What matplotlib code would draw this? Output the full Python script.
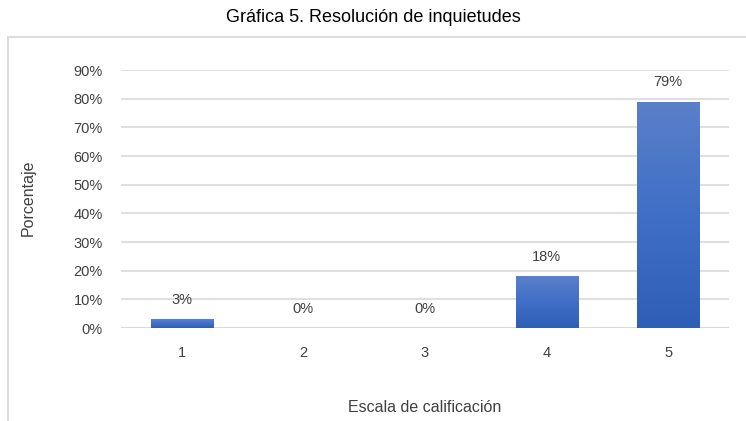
import numpy as np
import matplotlib.pyplot as plt
from matplotlib.patches import Rectangle
from matplotlib.colors import LinearSegmentedColormap

plt.rcParams['font.family'] = ['Liberation Sans Narrow', 'Liberation Sans', 'DejaVu Sans']

categories = ['1', '2', '3', '4', '5']
values = [3, 0, 0, 18, 79]
yticks = [0, 10, 20, 30, 40, 50, 60, 70, 80, 90]

title = 'Gráfica 5. Resolución de inquietudes'
xlabel = 'Escala de calificación'
ylabel = 'Porcentaje'

fig = plt.figure(figsize=(7.46, 4.21), dpi=100)
ax = fig.add_axes([121 / 746, 1 - 328 / 421, (729 - 121) / 746, (328 - 70) / 421])

# outer chart frame (cropped at right/bottom as in the reference)
fig.patches.append(Rectangle((8 / 746, -0.1), 1.1, 1 - 37 / 421 + 0.1,
                             transform=fig.transFigure, fill=False,
                             edgecolor='#d9d9d9', linewidth=1.3, zorder=0))

x = np.arange(len(categories))
bars = ax.bar(x, values, width=0.51, color='none', zorder=3)

grad = LinearSegmentedColormap.from_list('g', ['#2f5eb7', '#3f6fc6', '#5b80c9'])
img = np.linspace(0, 1, 256).reshape(-1, 1)
for b in bars:
    h = b.get_height()
    if h <= 0:
        continue
    x0 = b.get_x()
    w = b.get_width()
    im = ax.imshow(img, cmap=grad, aspect='auto', origin='lower',
                   extent=[x0, x0 + w, 0, h], zorder=3)
    im.set_clip_path(b)
    # light shadow
    ax.add_patch(Rectangle((x0 + 0.01, -0.4), w, h, facecolor='#bfbfbf',
                           alpha=0.35, edgecolor='none', zorder=2))

for xi, v in zip(x, values):
    ax.text(xi, v + 6.8, f'{v}%', ha='center', va='center',
            fontsize=10.5, color='#404040')

ax.set_xlim(-0.5, len(categories) - 0.5)
ax.set_ylim(0, 90)
ax.set_yticks(yticks)
ax.set_yticklabels([f'{t}%' for t in yticks])
ax.set_xticks(x)
ax.set_xticklabels(categories)
ax.tick_params(axis='both', length=0, labelsize=10.5, labelcolor='#404040')
ax.tick_params(axis='x', pad=13)
ax.tick_params(axis='y', pad=13)
ax.grid(axis='y', color='#d9d9d9', linewidth=1.2, zorder=0)
ax.set_axisbelow(True)
for s in ax.spines.values():
    s.set_visible(False)
ax.axhline(0, color='#d9d9d9', linewidth=1.2, zorder=1)

fig.text(0.5, 1 - 18 / 421, title, ha='center', va='center', fontsize=13, color='#000000')
fig.text(28 / 746, 1 - 198 / 421, ylabel, ha='center', va='center', rotation=90,
         fontsize=11.5, color='#404040')
fig.text(425 / 746, 1 - 407 / 421, xlabel, ha='center', va='center',
         fontsize=11.5, color='#404040')

fig.savefig('out.png', dpi=100)
